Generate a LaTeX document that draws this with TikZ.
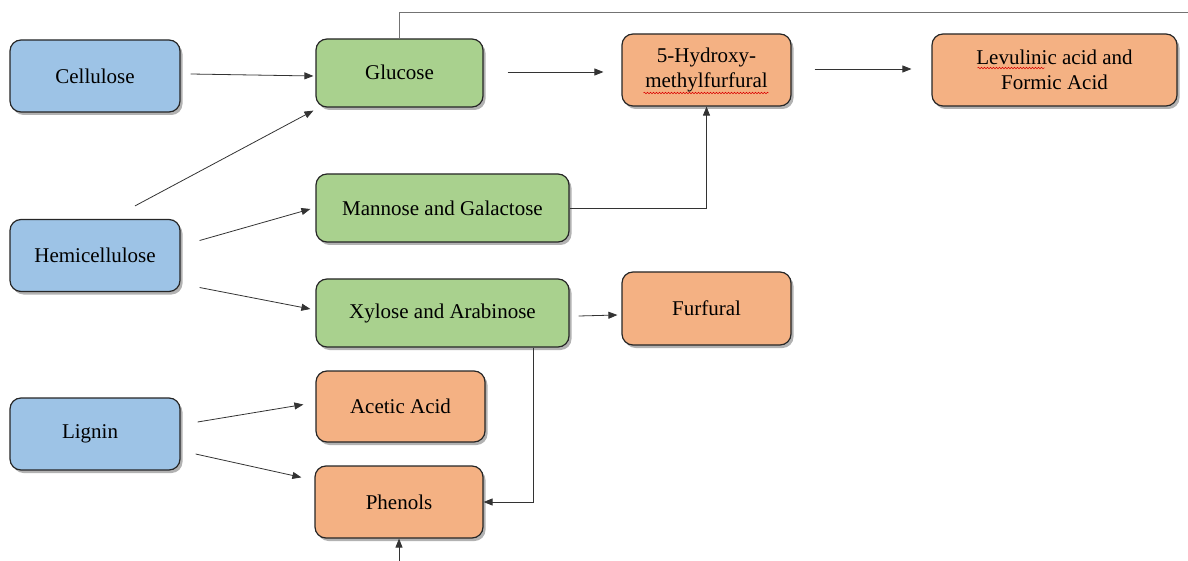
\documentclass[tikz,border=0pt]{standalone}
\usepackage{fontspec}
\setmainfont{Liberation Serif}
\usetikzlibrary{arrows.meta,shadows,calc,decorations.pathmorphing}
\definecolor{cblue}{HTML}{9DC3E6}
\definecolor{cgreen}{HTML}{A9D18E}
\definecolor{corange}{HTML}{F4B183}
\begin{document}
\begin{tikzpicture}[x=1pt,y=-1pt,
  box/.style={draw=black!85, line width=1.2pt, rounded corners=11pt, align=center,
    font=\fontsize{21}{25}\selectfont, inner sep=0pt,
    drop shadow={shadow xshift=2.5pt, shadow yshift=-3pt, opacity=0.3, fill=black}},
  bluebox/.style={box, fill=cblue, minimum width=170pt, minimum height=72pt},
  greenbox/.style={box, fill=cgreen, minimum height=68pt},
  orangebox/.style={box, fill=corange, minimum height=72pt},
  conn/.style={draw=black!80, line width=0.8pt, -{Triangle[length=9pt,width=7pt]}},
  plainline/.style={draw=black!55, line width=0.8pt},
  spell/.style={draw=red!85!black, line width=0.5pt, decorate,
    decoration={snake, amplitude=0.8pt, segment length=3pt}}]
\useasboundingbox (0,0) rectangle (1188,561);

% sources
\node[bluebox] (cell) at (95,76) {Cellulose};
\node[bluebox] (hemi) at (95,255.5) {Hemicellulose};
\node[bluebox] (lig) at (95,434) {\hspace*{-10pt}\raisebox{-4pt}{Lignin}};

% sugars
\node[greenbox, minimum width=167pt] (glu) at (399.5,73) {\raisebox{2pt}{Glucose}};
\node[greenbox, minimum width=253pt] (man) at (442.5,208) {Mannose and Galactose};
\node[greenbox, minimum width=253pt] (xyl) at (442.5,313) {Xylose and Arabinose};

% products
\node[orangebox, minimum width=169pt, minimum height=71pt] (acet) at (400.5,406.5) {Acetic Acid};
\node[orangebox, minimum width=168pt] (phen) at (399,502) {Phenols};
\node[orangebox, minimum width=169pt] (hmf) at (706.5,70) {5-Hydroxy-\\methylfurfural};
\node[orangebox, minimum width=169pt, minimum height=73pt] (fur) at (706.5,308.5) {Furfural};
\node[orangebox, minimum width=245pt] (lev) at (1054.5,70) {Levulinic acid and\\Formic Acid};

% spell-check marks
\draw[spell] ($(hmf.center)+(-63,23)$) -- ($(hmf.center)+(62,23)$);
\draw[spell] ($(lev.center)+(-77,-2)$) -- ($(lev.center)+(-10,-2)$);

% free ends
\coordinate (topend) at (1188,12);
\coordinate (botstart) at (399,561);

% connectors
\draw[conn] ($(cell.east)+(10,-2)$) -- ($(glu.west)+(-2,3)$);
\draw[conn] ($(hemi.north)+(40,-13)$) -- ($(glu.south west)+(-2,3)$);
\draw[conn] ($(hemi.east)+(19,-15)$) -- ($(man.west)+(-5,1)$);
\draw[conn] ($(hemi.east)+(19,32)$) -- ($(xyl.west)+(-5,-4)$);
\draw[conn] ($(lig.east)+(17,-12)$) -- ($(acet.west)+(-12,-2)$);
\draw[conn] ($(lig.east)+(15,20)$) -- ($(phen.north west)+(-13,12)$);

\draw[conn] ($(glu.east)+(24,-1)$) -- ($(hmf.west)+(-18,2)$);
\draw[conn] ($(hmf.east)+(23,-1)$) -- ($(lev.west)+(-20,-1)$);
\draw[conn] (man.east) -| (hmf.south);
\draw[conn] ($(xyl.east)+(9,3)$) -- ($(fur.west)+(-4,6.5)$);
\draw[conn] ($(xyl.south east)+(-36,0)$) |- (phen.east);

\draw[plainline] (glu.north) |- (topend);
\draw[conn] (botstart) -- (phen.south);
\end{tikzpicture}
\end{document}
